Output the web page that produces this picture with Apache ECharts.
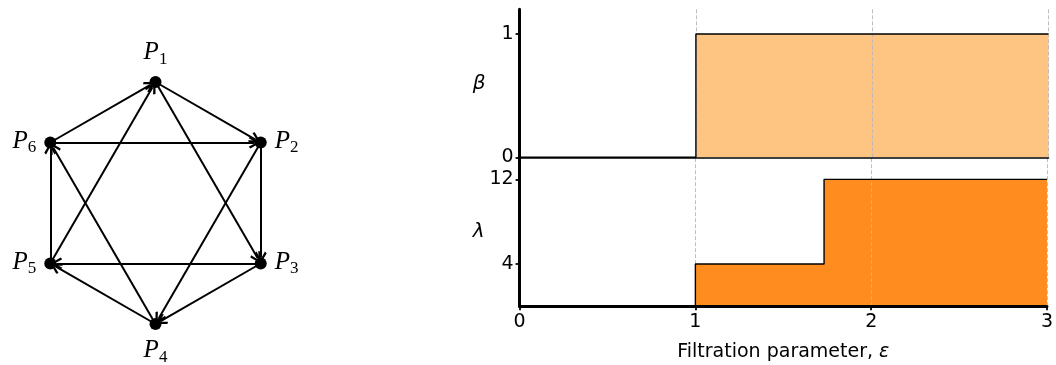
<!DOCTYPE html>
<html><head><meta charset="utf-8">
<script src="https://cdn.jsdelivr.net/npm/echarts@6/dist/echarts.min.js"></script>
<style>html,body{margin:0;padding:0;background:#fff}#c{width:1056px;height:365px}</style>
</head><body><div id="c"></div>
<script>
// ---- graph data ----
const nodeNames = ['P1','P2','P3','P4','P5','P6'];
const nodeSubs = ['1','2','3','4','5','6'];
const nodeX = [0, 0.866, 0.866, 0, -0.866, -0.866];
const nodeY = [1, 0.5, -0.5, -1, -0.5, 0.5];
const labelPos = ['top','right','right','bottom','left','left'];
const edgeFrom = [0,0,1,1,2,2,3,3,4,4,5,5];
const edgeTo   = [1,2,2,3,3,4,4,5,5,0,0,1];

// ---- step chart data ----
const epsEdges = [0, 1, 1.732, 3];
const betaValues = [0, 1, 1, 1];
const lambdaValues = [0, 4, 12, 12];
const xTicks = [0, 1, 2, 3];
const betaTicks = [0, 1];
const lambdaTicks = [4, 12];

const chart = echarts.init(document.getElementById('c'));

const nodes = nodeNames.map((n, i) => ({
  name: n,
  value: [nodeX[i], nodeY[i]],
  label: { position: labelPos[i], formatter: '{p|P}{s|' + nodeSubs[i] + '}' }
}));
const links = edgeFrom.map((s, i) => ({ source: nodeNames[s], target: nodeNames[edgeTo[i]] }));

const betaData = epsEdges.map((x, i) => [x, betaValues[i]]);
const lambdaData = epsEdges.map((x, i) => [x, lambdaValues[i]]);

const chevron = 'path://M50,0 L100,86 L85,100 L50,36 L15,100 L0,86 Z';
const font = 'DejaVu Sans';
const GL = 519.6, GW = 528.9;
const FS = 19;

const splitDash = { show: true, lineStyle: { color: '#b8b8b8', type: [4, 2], width: 0.9 } };

chart.setOption({
  animation: false,
  backgroundColor: '#fff',
  grid: [
    { left: 34, top: 82, width: 243, height: 242 },
    { left: GL, top: 9.3, width: GW, height: 148 },
    { left: GL, top: 158.2, width: GW, height: 148.1 }
  ],
  xAxis: [
    { gridIndex: 0, type: 'value', min: -1, max: 1, show: false },
    { gridIndex: 1, type: 'value', min: 0, max: 3, interval: 1, z: 3,
      axisLine: { show: true, onZero: false, lineStyle: { color: '#000', width: 1.5 } },
      axisTick: { show: false }, axisLabel: { show: false },
      splitLine: splitDash },
    { gridIndex: 2, type: 'value', min: 0, max: 3, interval: 1, z: 3,
      axisLine: { show: true, onZero: false, lineStyle: { color: '#000', width: 3 } },
      axisTick: { show: true, length: 4, lineStyle: { color: '#000', width: 1.8 } },
      axisLabel: { fontSize: FS, color: '#000', fontFamily: font, margin: 6,
        customValues: xTicks },
      splitLine: splitDash,
      name: '{a|Filtration parameter, }{b|ε}', nameLocation: 'middle', nameGap: 36,
      nameTextStyle: { rich: {
        a: { fontSize: FS, fontFamily: font, color: '#000' },
        b: { fontSize: FS, fontFamily: font, fontStyle: 'italic', color: '#000' } } } }
  ],
  yAxis: [
    { gridIndex: 0, type: 'value', min: -1, max: 1, show: false },
    { gridIndex: 1, type: 'value', min: 0, max: 1.2, z: 3,
      axisLine: { show: true, onZero: false, lineStyle: { color: '#000', width: 3 } },
      axisTick: { show: true, length: 4, customValues: betaTicks, lineStyle: { color: '#000', width: 1.8 } },
      axisLabel: { fontSize: FS, color: '#000', fontFamily: font, margin: 6, customValues: betaTicks },
      splitLine: { show: false },
      name: 'β', nameLocation: 'middle', nameRotate: 0, nameGap: 34,
      nameTextStyle: { fontSize: 20, fontStyle: 'italic', fontFamily: font, color: '#000', padding: [0, 0, 12, 0] } },
    { gridIndex: 2, type: 'value', min: 0, max: 14, z: 3,
      axisLine: { show: true, onZero: false, lineStyle: { color: '#000', width: 3 } },
      axisTick: { show: true, length: 4, customValues: lambdaTicks, lineStyle: { color: '#000', width: 1.8 } },
      axisLabel: { fontSize: FS, color: '#000', fontFamily: font, margin: 6, customValues: lambdaTicks },
      splitLine: { show: false },
      name: 'λ', nameLocation: 'middle', nameRotate: 0, nameGap: 34,
      nameTextStyle: { fontSize: 20, fontStyle: 'italic', fontFamily: font, color: '#000', padding: [0, 0, 18, 0] } }
  ],
  series: [
    {
      type: 'graph', coordinateSystem: 'cartesian2d', xAxisIndex: 0, yAxisIndex: 0,
      symbol: 'circle', symbolSize: 12,
      itemStyle: { color: '#000' },
      edgeSymbol: ['none', chevron], edgeSymbolSize: [0, 12],
      lineStyle: { color: '#000', width: 2, opacity: 1, curveness: 0 },
      label: { show: true, distance: 8, color: '#000',
        rich: {
          p: { fontFamily: 'Liberation Serif', fontStyle: 'italic', fontSize: 25, lineHeight: 28, verticalAlign: 'top', color: '#000' },
          s: { fontFamily: 'Liberation Serif', fontSize: 17, lineHeight: 15, verticalAlign: 'bottom', color: '#000' }
        } },
      emphasis: { disabled: true },
      data: nodes, links: links
    },
    {
      type: 'line', xAxisIndex: 1, yAxisIndex: 1, step: 'end', symbol: 'none', z: 2,
      data: betaData, lineStyle: { width: 0 },
      areaStyle: { color: '#fdc581', opacity: 1 }
    },
    {
      type: 'line', xAxisIndex: 1, yAxisIndex: 1, step: 'end', symbol: 'none', z: 5,
      data: betaData, lineStyle: { color: '#000', width: 1.4 }
    },
    {
      type: 'line', xAxisIndex: 2, yAxisIndex: 2, step: 'end', symbol: 'none', z: 2,
      data: lambdaData, lineStyle: { width: 0 },
      areaStyle: { color: '#fe8c1f', opacity: 1 }
    },
    {
      type: 'line', xAxisIndex: 2, yAxisIndex: 2, step: 'end', symbol: 'none', z: 5,
      data: lambdaData, lineStyle: { color: '#000', width: 1.4 }
    }
  ]
});
</script></body></html>
